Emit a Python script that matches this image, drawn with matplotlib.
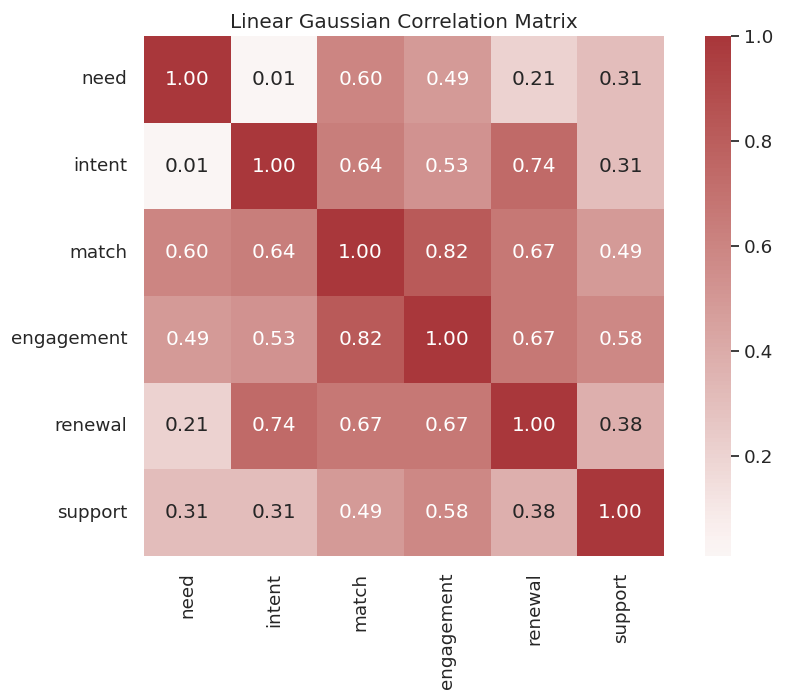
import numpy as np
import matplotlib
matplotlib.use("Agg")
import matplotlib.pyplot as plt
import seaborn as sns

labels = ["need", "intent", "match", "engagement", "renewal", "support"]
corr = np.array([
    [1.00, 0.01, 0.60, 0.49, 0.21, 0.31],
    [0.01, 1.00, 0.64, 0.53, 0.74, 0.31],
    [0.60, 0.64, 1.00, 0.82, 0.67, 0.49],
    [0.49, 0.53, 0.82, 1.00, 0.67, 0.58],
    [0.21, 0.74, 0.67, 0.67, 1.00, 0.38],
    [0.31, 0.31, 0.49, 0.58, 0.38, 1.00],
])

sns.set_theme(style="white", font_scale=1.2)

fig = plt.figure(figsize=(7.88, 7.0), dpi=100)
ax = fig.add_axes([144 / 788, 1 - 556 / 700, 520 / 788, 520 / 700])
cax = fig.add_axes([705 / 788, 1 - 556 / 700, 26 / 788, 520 / 700])
sns.heatmap(corr, annot=True, fmt=".2f", cmap="vlag", center=0,
            square=True, xticklabels=labels, yticklabels=labels,
            ax=ax, cbar_ax=cax)
ax.set_title("Linear Gaussian Correlation Matrix")
ax.set_xticklabels(labels, rotation=90)
ax.set_yticklabels(labels, rotation=0)
ax.tick_params(axis="both", pad=6)
fig.savefig("out.png", dpi=100)
